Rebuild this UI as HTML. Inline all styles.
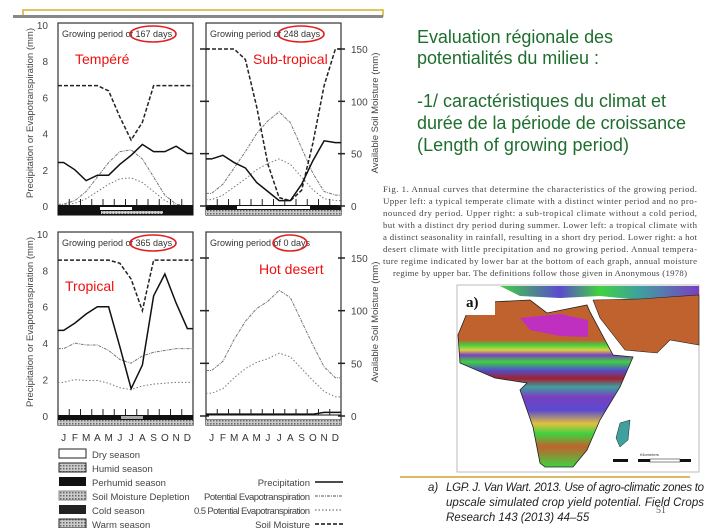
<!DOCTYPE html>
<html><head><meta charset="utf-8"><style>
html,body{margin:0;padding:0;background:#fff;}
svg{display:block;font-family:"Liberation Sans",sans-serif;}
</style></head><body>
<svg id="s" width="709" height="528" viewBox="0 0 709 528" xmlns="http://www.w3.org/2000/svg">
<defs>
<pattern id="hatch" width="3" height="3" patternUnits="userSpaceOnUse"><rect width="3" height="3" fill="#ccc"/><rect width="1.5" height="1.5" fill="#666"/></pattern>
<linearGradient id="afr" x1="0" y1="0" x2="0" y2="1">
<stop offset="0" stop-color="#c0622e"/><stop offset="0.24" stop-color="#c0622e"/>
<stop offset="0.27" stop-color="#3fd23f"/><stop offset="0.30" stop-color="#e0d040"/>
<stop offset="0.33" stop-color="#7a3fc0"/><stop offset="0.37" stop-color="#3fd23f"/>
<stop offset="0.42" stop-color="#5050c8"/><stop offset="0.47" stop-color="#a02030"/>
<stop offset="0.52" stop-color="#3fa0a0"/><stop offset="0.58" stop-color="#7a3fc0"/>
<stop offset="0.66" stop-color="#5a4ad0"/><stop offset="0.74" stop-color="#e0c040"/>
<stop offset="0.80" stop-color="#3fd23f"/><stop offset="0.88" stop-color="#c0622e"/>
<stop offset="1" stop-color="#3fd23f"/></linearGradient>
<linearGradient id="top" x1="0" y1="0" x2="1" y2="0">
<stop offset="0" stop-color="#3fd23f"/><stop offset="0.3" stop-color="#5a4ad0"/><stop offset="0.5" stop-color="#3fd23f"/><stop offset="0.7" stop-color="#3fa0a0"/><stop offset="1" stop-color="#7a3fc0"/></linearGradient>
</defs>
<g>
<rect x="23" y="10" width="360" height="6" fill="none" stroke="#d4b030" stroke-width="1.5"/>
<rect x="13" y="15" width="370" height="3" fill="#888"/>
</g>
<g id="charts"></g>
<g font-size="9.5" fill="#444">
<rect x="59" y="449" width="27" height="9" fill="#fff" stroke="#222"/><text x="92" y="458">Dry season</text>
<rect x="59" y="463" width="27" height="9" fill="url(#hatch)" stroke="#222"/><text x="92" y="472">Humid season</text>
<rect x="59" y="477" width="27" height="9" fill="#111"/><text x="92" y="486">Perhumid season</text>
<rect x="59" y="491" width="27" height="9" fill="url(#hatch)" stroke="#888"/><text x="92" y="500">Soil Moisture Depletion</text>
<rect x="59" y="505" width="27" height="9" fill="#222"/><text x="92" y="514">Cold season</text>
<rect x="59" y="519" width="27" height="9" fill="url(#hatch)" stroke="#222"/><text x="92" y="528">Warm season</text>
<text x="310" y="486" text-anchor="end">Precipitation</text><line x1="315" y1="482" x2="343" y2="482" stroke="#111" stroke-width="1.5"/>
<text x="310" y="500" text-anchor="end" textLength="106">Potential Evapotranspiration</text><line x1="315" y1="496" x2="343" y2="496" stroke="#555" stroke-dasharray="3,1,1,1"/>
<text x="310" y="514" text-anchor="end" textLength="116">0.5 Potential Evapotranspiration</text><line x1="315" y1="510" x2="343" y2="510" stroke="#555" stroke-dasharray="1.5,2"/>
<text x="310" y="528" text-anchor="end">Soil Moisture</text><line x1="315" y1="524" x2="343" y2="524" stroke="#111" stroke-width="1.5" stroke-dasharray="4,2"/>
</g>
<g fill="#1e6e2e" font-size="18">
<text x="417" y="43" textLength="196">Evaluation régionale des</text>
<text x="417" y="64" textLength="182">potentialités du milieu :</text>
<text x="417" y="107" textLength="249">-1/ caractéristiques du climat et</text>
<text x="417" y="129" textLength="269">durée de la période de croissance</text>
<text x="417" y="151" textLength="212">(Length of growing period)</text>
</g>
<g font-family="Liberation Serif,serif" font-size="8.8" fill="#444">
<text x="383" y="192" textLength="314">Fig. 1. Annual curves that determine the characteristics of the growing period.</text>
<text x="383" y="204" textLength="314">Upper left: a typical temperate climate with a distinct winter period and no pro-</text>
<text x="383" y="216" textLength="314">nounced dry period. Upper right: a sub-tropical climate without a cold period,</text>
<text x="383" y="228" textLength="314">but with a distinct dry period during summer. Lower left: a tropical climate with</text>
<text x="383" y="240" textLength="314">a distinct seasonality in rainfall, resulting in a short dry period. Lower right: a hot</text>
<text x="383" y="252" textLength="314">desert climate with little precipitation and no growing period. Annual tempera-</text>
<text x="383" y="264" textLength="314">ture regime indicated by lower bar at the bottom of each graph, annual moisture</text>
<text x="393" y="276" textLength="294">regime by upper bar. The definitions follow those given in Anonymous (1978)</text>
</g>
<g>
<rect x="457" y="285" width="242" height="187" fill="#fff" stroke="#bbb"/>
<path d="M500,286 L699,286 L699,300 L640,300 L600,296 L560,298 L520,296 Z" fill="url(#top)"/>
<path d="M593,300 L640,299 L699,295 L699,345 L670,340 L657,353 L625,350 L600,318 Z" fill="#c0622e" stroke="#222" stroke-width="0.6"/>
<path d="M467,313 L490,302 L530,300 L547,313 L587,305 L590,312 L613,355 L633,357 L620,387 L600,420 L587,450 L573,467 L545,467 L540,463 L533,427 L520,390 L527,383 L495,378 L460,363 L458,335 Z" fill="url(#afr)" stroke="#222" stroke-width="0.8"/>
<path d="M520,318 L560,314 L588,320 L588,337 L560,336 L530,330 Z" fill="#c030c0"/>
<path d="M620,423 L630,420 L628,440 L620,447 L616,438 Z" fill="#3fa0a0" stroke="#222" stroke-width="0.5"/>
<rect x="458" y="289" width="37" height="26" fill="#fff"/>
<text x="466" y="307" font-family="Liberation Serif,serif" font-weight="bold" font-size="15" fill="#111">a)</text>
<rect x="613" y="459" width="78" height="3" fill="#111"/><rect x="628" y="459" width="10" height="3" fill="#fff"/><rect x="650" y="459" width="30" height="3" fill="#fff" stroke="#111" stroke-width="0.5"/>
<text x="640" y="456" font-size="4" fill="#333">Kilometers</text>
</g>
<line x1="400" y1="477" x2="690" y2="477" stroke="#d4a030" stroke-width="1.5"/>
<g font-style="italic" font-size="11.5" fill="#222">
<text x="428" y="491">a)</text>
<text x="446" y="491" textLength="258">LGP. J. Van Wart. 2013. Use of agro-climatic zones to</text>
<text x="446" y="506" textLength="258">upscale simulated crop yield potential. Field Crops</text>
<text x="446" y="521">Research 143 (2013) 44–55</text>
<text x="656" y="513" font-style="normal" font-family="Liberation Serif,serif" font-size="10" fill="#555">51</text>
</g>
</svg>
<script>
const months = ["J","F","M","A","M","J","J","A","S","O","N","D"];
const tempPrecip = [2.4,2.0,1.4,1.7,1.7,2.3,2.8,3.4,3.0,3.0,3.3,2.9];
const tempPET = [0.1,0.3,0.8,1.6,2.4,3.0,3.1,2.6,1.6,0.6,0.1,0.0];
const tempSM = [115,115,115,115,110,85,63,80,115,115,115,115];
const subPrecip = [2.6,2.8,2.4,2.1,1.3,0.8,0.3,0.3,1.2,2.5,3.6,3.5];
const subPET = [0.7,1.2,2.1,3.0,4.0,4.7,5.2,4.6,3.2,1.8,0.8,0.6];
const subSM = [150,150,150,140,95,40,8,5,15,60,115,150];
const tropPrecip = [4.7,5.1,5.6,6.0,6.0,3.8,1.5,2.8,6.6,7.8,6.2,4.8];
const tropPET = [3.7,4.0,3.9,3.9,3.6,3.1,2.9,3.3,3.5,3.6,3.7,3.7];
const tropSM = [148,148,148,148,148,145,130,100,148,148,148,148];
const desPrecip = [0.1,0.1,0.1,0.1,0.1,0.1,0.1,0.1,0.1,0.1,0.2,0.2];
const desPET = [2.5,3.0,4.2,5.2,5.9,6.3,6.9,6.5,5.2,3.9,2.7,2.1];
const desSM = [0,0,0,0,0,0,0,0,0,0,0,0];
const leftTicks = [0,2,4,6,8,10];
const rightTicks = [0,50,100,150];
const NS="http://www.w3.org/2000/svg";
const root=document.getElementById('charts');
function mk(tag,attrs,parent){const e=document.createElementNS(NS,tag);for(const k in attrs)e.setAttribute(k,attrs[k]);(parent||root).appendChild(e);return e;}
const panels=[
 {name:'temperate',x:58,top:23,zero:206,days:'167',label:'Tempéré',lx:75,ly:64,P:tempPrecip,E:tempPET,S:tempSM,bars:'tl',left:true},
 {name:'subtropical',x:206,top:23,zero:206,days:'248',label:'Sub-tropical',lx:253,ly:64,P:subPrecip,E:subPET,S:subSM,bars:'tr',right:true},
 {name:'tropical',x:58,top:232,zero:416,days:'365',label:'Tropical',lx:65,ly:291,P:tropPrecip,E:tropPET,S:tropSM,bars:'bl',left:true,months:true},
 {name:'hot-desert',x:206,top:232,zero:416,days:'0',label:'Hot desert',lx:259,ly:274,P:desPrecip,E:desPET,S:desSM,bars:'br',right:true,months:true}
];
panels.forEach(p=>{
 const g=mk('g',{});
 
 
 const W=135, unit=(p.zero-p.top-1)/10.05, smUnit=(p.zero-(p.top+26))/150;
 const xs=i=>p.x+W/12*(i+0.5);
 const y=v=>p.zero-v*unit;
 const ys=v=>p.zero-v*smUnit;
 const box=mk('rect',{x:p.x,y:p.top,width:W,height:p.zero+9-p.top,fill:'#fff',stroke:'#333','stroke-width':1.2},g);
 
 
 function line(vals,fn,style,nm){
  let pts=[[p.x,fn(vals[0])]];
  vals.forEach((v,i)=>pts.push([xs(i),fn(v)]));
  pts.push([p.x+W,fn(vals[vals.length-1])]);
  const pl=mk('polyline',Object.assign({points:pts.map(q=>q.join(',')).join(' '),fill:'none'},style),g);
  
  
 }
 line(p.E,y,{stroke:'#777','stroke-width':1,'stroke-dasharray':'3,1,1,1'},'pet-line');
 line(p.E.map(v=>v/2),y,{stroke:'#777','stroke-width':1,'stroke-dasharray':'1.5,2'},'half-pet-line');
 if(p.name!=='hot-desert') line(p.S,ys,{stroke:'#222','stroke-width':1.5,'stroke-dasharray':'4,2'},'soil-moisture-line');
 line(p.P,y,{stroke:'#111','stroke-width':1.5},'precipitation-line');
 for(let i=1;i<12;i++){const t=mk('line',{x1:p.x+W/12*i,x2:p.x+W/12*i,y1:p.zero-7,y2:p.zero,stroke:'#222'},g);}
 const bt=p.zero-1, bb=p.zero+9;
 if(p.bars==='tl'){
  mk('rect',{x:p.x,y:bt,width:W,height:bb-bt,fill:'#111'},g);
  mk('rect',{x:100,y:bt+2,width:32,height:3,fill:'#fff'},g);
  mk('rect',{x:101,y:bt+6,width:62,height:3,fill:'url(#hatch)'},g);
 } else if(p.bars==='tr'){
  mk('rect',{x:p.x,y:bt,width:W,height:5,fill:'#111'},g);
  mk('rect',{x:237,y:bt+1,width:73,height:3,fill:'#fff'},g);
  mk('rect',{x:p.x,y:bt+5,width:W,height:5,fill:'url(#hatch)'},g);
 } else if(p.bars==='bl'){
  mk('rect',{x:p.x,y:bt,width:W,height:5,fill:'#111'},g);
  mk('rect',{x:121,y:bt+1,width:22,height:3,fill:'#aaa'},g);
  mk('rect',{x:p.x,y:bt+5,width:W,height:5,fill:'url(#hatch)'},g);
 } else {
  mk('rect',{x:p.x,y:bt,width:W,height:5,fill:'#fff',stroke:'#111'},g);
  mk('rect',{x:p.x,y:bt+5,width:W,height:5,fill:'url(#hatch)'},g);
 }
 const gt=mk('text',{x:p.x+4,y:p.top+14,'font-size':9,fill:'#333'},g);
 gt.textContent='Growing period of '+p.days+' days';
 
 
 const cx=p.x+(p.days.length>1?95:84);
 const el=mk('ellipse',{cx:cx,cy:p.top+11,rx:p.days.length>1?23:17,ry:8,fill:'none',stroke:'#e02020','stroke-width':1.6},g);
 
 
 const cl=mk('text',{x:p.lx,y:p.ly,'font-size':14,fill:'#f01010'},g);
 cl.textContent=p.label;
 
 
 if(p.left){
  leftTicks.forEach(v=>{const t=mk('text',{x:p.x-10,y:y(v)+4,'font-size':10,fill:'#444','text-anchor':'end'},g);t.textContent=v;});
  const yt=mk('text',{x:0,y:0,'font-size':9.5,fill:'#444','text-anchor':'middle',transform:'translate(33,'+(p.top+90)+') rotate(-90)'},g);
  yt.textContent='Precipitation or Evapotranspiration (mm)';
  
  
 }
 if(p.right){
  rightTicks.forEach(v=>{const t=mk('text',{x:p.x+W+10,y:ys(v)+4,'font-size':10,fill:'#444'},g);t.textContent=v;
   const tk=mk('line',{x1:p.x-6,x2:p.x+3,y1:ys(v),y2:ys(v),stroke:'#222','stroke-width':1.5},g);
   const tk2=mk('line',{x1:p.x+W-3,x2:p.x+W+4,y1:ys(v),y2:ys(v),stroke:'#222','stroke-width':1.5},g);});
  const yt=mk('text',{x:0,y:0,'font-size':9.5,fill:'#444','text-anchor':'middle',transform:'translate(378,'+(p.top+90)+') rotate(-90)'},g);
  yt.textContent='Available Soil Moisture (mm)';
  
  
 }
 if(p.months){
  months.forEach((m,i)=>{const t=mk('text',{x:xs(i),y:441,'font-size':10,fill:'#333','text-anchor':'middle'},g);t.textContent=m;});
 }
});
</script>
</body></html>
